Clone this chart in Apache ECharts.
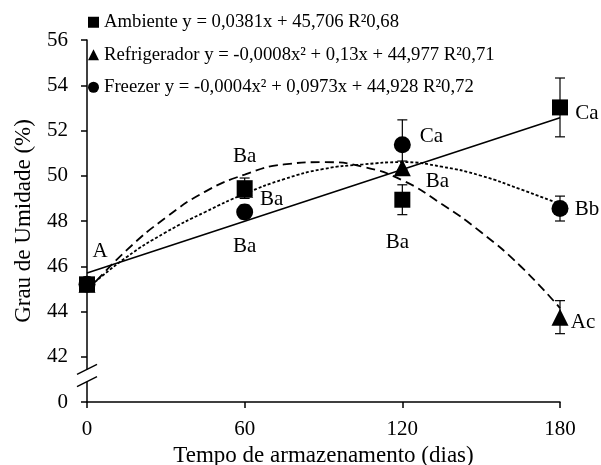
<!DOCTYPE html>
<html><head><meta charset="utf-8">
<script src="https://cdn.jsdelivr.net/npm/echarts@6/dist/echarts.min.js"></script>
<style>html,body{margin:0;padding:0;background:#fff}#c{width:601px;height:465px}</style>
</head><body><div id="c"></div>
<script>
// ---- data ----
const days = [0, 60, 120, 180];
const seriesNames = ['Ambiente', 'Refrigerador', 'Freezer'];
const ambienteMean = [45.2, 49.45, 48.94, 53.02];
const ambienteErr = [0.15, 0.45, 0.66, 1.3];
const refrigMean = [45.2, 49.4, 50.35, 43.75];
const refrigErr = [0.15, 0.3, 0.3, 0.73];
const freezerMean = [45.2, 48.4, 51.37, 48.55];
const freezerErr = [0.15, 0.3, 1.1, 0.55];
const ambienteLetters = ['A', 'Ba', 'Ba', 'Ca'];
const refrigLetters = ['', 'Ba', 'Ba', 'Ac'];
const freezerLetters = ['', 'Ba', 'Ca', 'Bb'];
// fitted curves
const ambienteTrendX = [0, 180];
const ambienteTrend = [45.7, 52.56];
const trendX = [0, 15, 30, 45, 60, 75, 90, 105, 120, 135, 150, 165, 180];
const refrigTrend = [44.9, 46.7, 48.15, 49.3, 50.05, 50.5, 50.6, 50.4, 49.8, 48.75, 47.5, 46.0, 44.15];
const freezerTrend = [45.0, 46.4, 47.5, 48.4, 49.2, 49.85, 50.3, 50.5, 50.6, 50.4, 50.0, 49.4, 48.75];
const equations = [
  'y = 0,0381x + 45,706 R²0,68',
  'y = -0,0008x² + 0,13x + 44,977 R²0,71',
  'y = -0,0004x² + 0,0973x + 44,928 R²0,72'
];
const yTickLabels = ['0', '42', '44', '46', '48', '50', '52', '54', '56'];
const xTickLabels = ['0', '60', '120', '180'];
const xTitle = 'Tempo de armazenamento (dias)';
const yTitle = 'Grau de Umidade (%)';

// ---- styles ----
const FONT = 'Liberation Serif';
const labelOffsets = {
  Ambiente: [[13, -33], [0, -32], [-5, 43], [27, 6]],
  Refrigerador: [[0, 0], [0, 57], [35, 14], [23, 5]],
  Freezer: [[0, 0], [27, -12], [29, -8], [27, 1]]
};

function pts(xs, ys) { return xs.map((x, i) => [x, ys[i]]); }
function markerData(name, means, letters) {
  return days.map((d, i) => ({
    value: [d, means[i]],
    label: {
      show: letters[i] !== '',
      formatter: letters[i],
      position: 'inside',
      offset: labelOffsets[name][i],
      fontFamily: FONT, fontSize: 21, color: '#000',
      textBorderWidth: 0
    }
  }));
}
function errData(means, errs) {
  return days.map((d, i) => [d, means[i] - errs[i], means[i] + errs[i]]);
}
function renderErr(params, api) {
  const x = api.value(0);
  const lo = api.coord([x, api.value(1)]);
  const hi = api.coord([x, api.value(2)]);
  const w = 5;
  const st = { stroke: '#000', lineWidth: 1.2 };
  return {
    type: 'group',
    children: [
      { type: 'line', shape: { x1: lo[0], y1: lo[1], x2: hi[0], y2: hi[1] }, style: st },
      { type: 'line', shape: { x1: lo[0] - w, y1: lo[1], x2: lo[0] + w, y2: lo[1] }, style: st },
      { type: 'line', shape: { x1: hi[0] - w, y1: hi[1], x2: hi[0] + w, y2: hi[1] }, style: st }
    ]
  };
}

const chart = echarts.init(document.getElementById('c'), null, { renderer: 'canvas' });
const option = {
  animation: false,
  backgroundColor: '#fff',
  textStyle: { fontFamily: FONT },
  grid: { left: 87, right: 41, top: 40, bottom: 63, containLabel: false, outerBoundsMode: 'none' },
  legend: {
    orient: 'vertical', left: 88, top: 12, padding: 0,
    itemWidth: 11, itemHeight: 11, itemGap: 12,
    selectedMode: false,
    data: [
      { name: 'Ambiente', icon: 'rect' },
      { name: 'Refrigerador', icon: 'triangle' },
      { name: 'Freezer', icon: 'circle' }
    ],
    formatter: name => name + ' ' + equations[seriesNames.indexOf(name)],
    textStyle: { fontFamily: FONT, fontSize: 18.7, color: '#000', lineHeight: 20.5 }
  },
  xAxis: {
    type: 'value', min: 0, max: 180, interval: 60,
    name: xTitle, nameLocation: 'middle', nameGap: 38,
    nameTextStyle: { fontFamily: FONT, fontSize: 23, color: '#000' },
    axisLine: { lineStyle: { color: '#000', width: 1.5 } },
    axisTick: { show: true, length: 6, lineStyle: { color: '#000', width: 1.5 } },
    axisLabel: { fontFamily: FONT, fontSize: 21, color: '#000', margin: 17,
      formatter: (v, i) => xTickLabels[i] },
    splitLine: { show: false }
  },
  yAxis: {
    type: 'value', min: 40, max: 56, interval: 2,
    name: yTitle, nameLocation: 'middle', nameGap: 52,
    nameTextStyle: { fontFamily: FONT, fontSize: 23, color: '#000' },
    axisLine: { show: true, lineStyle: { color: '#000', width: 1.5 } },
    axisTick: { show: true, length: 6, lineStyle: { color: '#000', width: 1.5 } },
    axisLabel: { fontFamily: FONT, fontSize: 21, color: '#000', margin: 19,
      formatter: (v, i) => yTickLabels[i] },
    splitLine: { show: false }
  },
  series: [
    { name: 'Ambiente ajuste', type: 'line', data: pts(ambienteTrendX, ambienteTrend), showSymbol: false,
      lineStyle: { color: '#000', width: 1.6, type: 'solid' }, z: 2, silent: true },
    { name: 'Refrigerador ajuste', type: 'line', data: pts(trendX, refrigTrend), smooth: true, showSymbol: false,
      lineStyle: { color: '#000', width: 1.8, type: [9, 5] }, z: 2, silent: true },
    { name: 'Freezer ajuste', type: 'line', data: pts(trendX, freezerTrend), smooth: true, showSymbol: false,
      lineStyle: { color: '#000', width: 1.8, type: [3, 2] }, z: 2, silent: true },
    { type: 'custom', data: errData(freezerMean, freezerErr), renderItem: renderErr, z: 3, silent: true },
    { type: 'custom', data: errData(refrigMean, refrigErr), renderItem: renderErr, z: 3, silent: true },
    { type: 'custom', data: errData(ambienteMean, ambienteErr), renderItem: renderErr, z: 3, silent: true },
    { name: 'Freezer', type: 'scatter', symbol: 'circle', symbolSize: 17,
      itemStyle: { color: '#000', opacity: 1 }, data: markerData('Freezer', freezerMean, freezerLetters), z: 4 },
    { name: 'Refrigerador', type: 'scatter', symbol: 'triangle', symbolSize: 17,
      itemStyle: { color: '#000', opacity: 1 }, data: markerData('Refrigerador', refrigMean, refrigLetters), z: 5 },
    { name: 'Ambiente', type: 'scatter', symbol: 'rect', symbolSize: 16,
      itemStyle: { color: '#000', opacity: 1 }, data: markerData('Ambiente', ambienteMean, ambienteLetters), z: 6 }
  ]
};
chart.setOption(option);

// axis break marks
const ax = chart.convertToPixel({ xAxisIndex: 0 }, 0);
const yTop = chart.convertToPixel({ yAxisIndex: 0 }, 41.44);
const yBot = chart.convertToPixel({ yAxisIndex: 0 }, 40.9);
chart.setOption({
  graphic: [
    { type: 'rect', shape: { x: ax - 3, y: yTop, width: 6, height: yBot - yTop }, style: { fill: '#fff' }, z: 100 },
    { type: 'line', shape: { x1: ax - 10, y1: yTop + 5, x2: ax + 10, y2: yTop - 5 }, style: { stroke: '#000', lineWidth: 1.3 }, z: 101 },
    { type: 'line', shape: { x1: ax - 10, y1: yBot + 5, x2: ax + 10, y2: yBot - 5 }, style: { stroke: '#000', lineWidth: 1.3 }, z: 101 }
  ]
});
</script>
</body></html>
